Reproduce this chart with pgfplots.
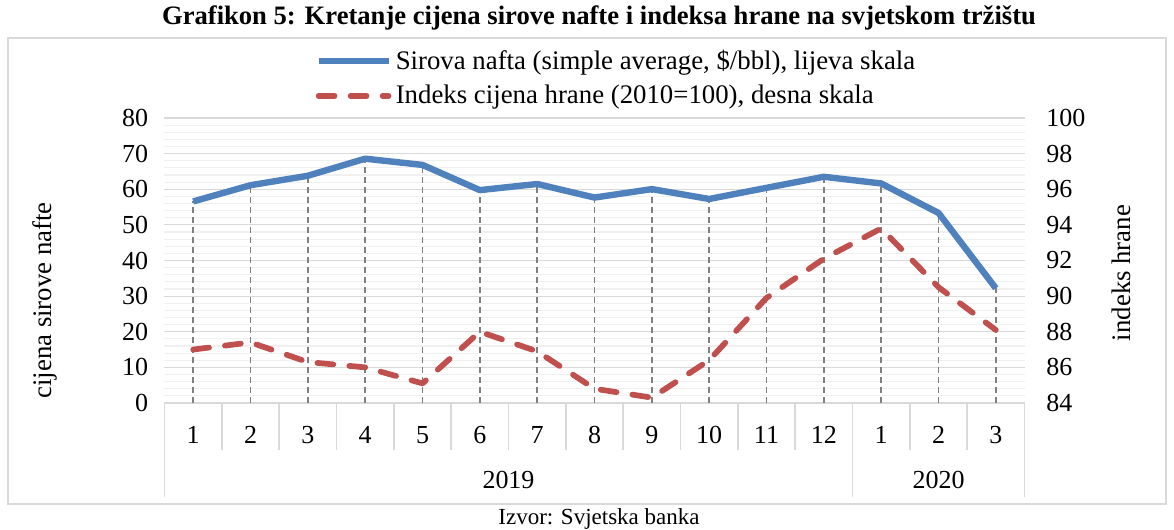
\documentclass[border=0pt]{standalone}
\usepackage{fontspec}
\setmainfont{Liberation Serif}
\usepackage{pgfplots}
\pgfplotsset{compat=1.18}
\definecolor{oilblue}{RGB}{79,129,189}
\definecolor{foodred}{RGB}{192,80,77}
\definecolor{gridmaj}{RGB}{217,217,217}
\definecolor{gridmin}{RGB}{240,240,240}
\definecolor{dropgray}{RGB}{128,128,128}

\pgfplotsset{
  oil/.style={oilblue, line width=3.2pt, line join=round},
  food/.style={foodred, line width=2.85pt, dash pattern=on 8pt off 8pt, line cap=round, line join=round},
  every tick label/.append style={font=\fontsize{13}{15}\selectfont},
  every axis label/.append style={font=\fontsize{13.4}{15}\selectfont},
  base/.style={
    at={(82.25pt,63.5pt)}, anchor=south west,
    scale only axis, width=430pt, height=142.5pt,
    xmin=0.5, xmax=15.5,
    tick style={draw=none},
    y axis line style={draw=none},
    /pgf/number format/assume math mode=true,
    clip=false,
  },
}

\begin{document}
\begin{tikzpicture}
\useasboundingbox (0pt,0pt) rectangle (587pt,265pt);
\draw[gridmaj, line width=0.75pt] (4pt,13pt) rectangle (583pt,246pt);
\node[font=\bfseries\fontsize{13.3}{15}\selectfont] at (299.5pt,256pt)
  {Grafikon 5: Kretanje cijena sirove nafte i indeksa hrane na svjetskom tržištu};
\node[font=\fontsize{11.5}{13}\selectfont] at (299.5pt,5.5pt) {Izvor: Svjetska banka};

\begin{axis}[base,
  ymin=0, ymax=80,
  xtick={1,...,15},
  xticklabels={1,2,3,4,5,6,7,8,9,10,11,12,1,2,3},
  xticklabel style={anchor=base, yshift=-20.4pt},
  ytick={0,10,...,80}, minor y tick num=4,
  yticklabel style={anchor=east, xshift=-4.6pt},
  ymajorgrids, yminorgrids,
  major grid style={gridmaj, line width=0.6pt},
  minor grid style={gridmin, line width=0.6pt},
  axis x line*=bottom, axis y line*=left,
  x axis line style={gridmaj, line width=0.75pt},
  ylabel={cijena sirove nafte},
  ylabel style={at={(axis description cs:-0.139,0.36)}, anchor=center},
  legend style={at={(rel axis cs:0.175,1.255)}, anchor=north west,
    draw=none, fill=none, inner sep=0pt, row sep=2.5pt,
    font=\fontsize{13.4}{15}\selectfont,
    /tikz/every even column/.append style={column sep=1pt}},
  legend cell align=left,
  legend image code/.code={\draw[#1] (0pt,0pt) -- (35pt,0pt);},
]
\pgfplotsinvokeforeach{1.5,2.5,3.5,4.5,5.5,6.5,7.5,8.5,9.5,10.5,11.5,13.5,14.5}{
  \draw[gridmaj, line width=0.75pt] (axis cs:#1,0) -- ++(0pt,-23.5pt);
}
\pgfplotsinvokeforeach{0.5,12.5,15.5}{
  \draw[gridmaj, line width=0.75pt] (axis cs:#1,0) -- ++(0pt,-47pt);
}
\node[anchor=base, yshift=-42.8pt, font=\fontsize{13}{15}\selectfont] at (axis cs:6.5,0) {2019};
\node[anchor=base, yshift=-42.8pt, font=\fontsize{13}{15}\selectfont] at (axis cs:14,0) {2020};

\addplot[ycomb, no marks, dropgray, line width=0.7pt, dash pattern=on 3pt off 2pt, forget plot] coordinates {
  (1,56.58) (2,61.13) (3,63.79) (4,68.58) (5,66.83) (6,59.76) (7,61.48) (8,57.67)
  (9,60.04) (10,57.27) (11,60.40) (12,63.50) (13,61.63) (14,53.35) (15,32.20)
};
\addplot[oil, no marks] coordinates {
  (1,56.58) (2,61.13) (3,63.79) (4,68.58) (5,66.83) (6,59.76) (7,61.48) (8,57.67)
  (9,60.04) (10,57.27) (11,60.40) (12,63.50) (13,61.63) (14,53.35) (15,32.20)
};
\addlegendentry{Sirova nafta (simple average, \$/bbl), lijeva skala}
\addlegendimage{food}
\addlegendentry{Indeks cijena hrane (2010=100), desna skala}
\end{axis}

\begin{axis}[base,
  ymin=84, ymax=100,
  ytick={84,86,...,100},
  axis y line*=right, axis x line=none,
  yticklabel style={anchor=west, xshift=7.4pt},
  ylabel={indeks hrane},
  ylabel style={at={(axis description cs:1.113,0.456)}, anchor=center},
]
\addplot[food, no marks] coordinates {
  (1,87.0) (2,87.4) (3,86.3) (4,86.0) (5,85.1) (6,88.0) (7,86.9) (8,84.8)
  (9,84.3) (10,86.4) (11,89.9) (12,92.1) (13,93.8) (14,90.5) (15,88.1)
};
\end{axis}
\end{tikzpicture}
\end{document}
